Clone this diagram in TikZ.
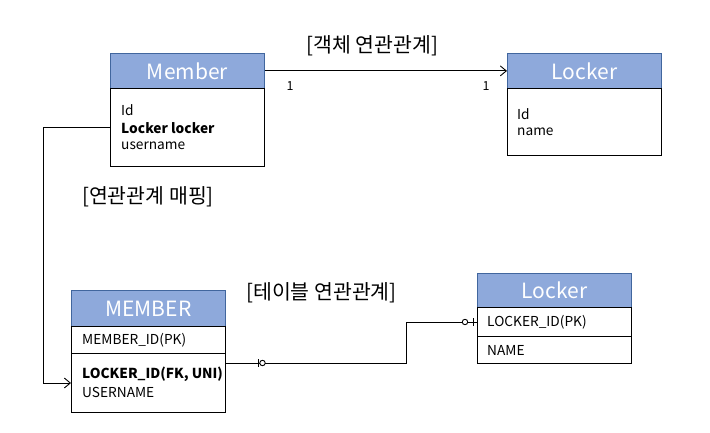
\documentclass[tikz,border=0pt]{standalone}
\usepackage{fontspec}
\setmainfont{Noto Sans CJK KR}
\usetikzlibrary{arrows.meta}
\definecolor{hdrblue}{HTML}{8EA9DB}
\definecolor{hdrline}{HTML}{41669E}
\begin{document}
\begin{tikzpicture}[x=1pt,y=-1pt,
 hdr/.style={draw=hdrline, line width=0.8pt, fill=hdrblue, text=white, font=\fontsize{21}{25}\selectfont, anchor=north west, inner sep=0pt, minimum width=154pt},
 cell/.style={draw=black, line width=1pt, fill=white, anchor=north west, inner sep=0pt, minimum width=154pt},
 txt/.style={anchor=west, inner sep=0pt, font=\fontsize{13.7}{16}\selectfont},
 lbl/.style={inner sep=0pt, font=\fontsize{20.5}{24}\selectfont},
 one/.style={inner sep=0pt, font=\fontsize{12.5}{14}\selectfont},
 conn/.style={draw=black, line width=0.9pt},
 arr/.style={conn, -{Straight Barb[length=6pt,width=10pt]}},
]
\useasboundingbox (0,0) rectangle (710,433);

% Member (object)
\node[hdr, minimum height=35pt] (mh) at (110,53) {Member};
\node[cell, minimum height=78pt] (mb) at (110,88) {};
\node[txt] (t1) at (121,110) {Id};
\node[txt, font=\fontsize{13.7}{16}\selectfont\bfseries] (t2) at (121,128) {Locker locker};
\node[txt] (t3) at (121,146) {username};

% Locker (object)
\node[hdr, minimum height=35pt] (lh) at (507,53) {Locker};
\node[cell, minimum height=67pt] (lb) at (507,88) {};
\node[txt] (t4) at (517,114) {Id};
\node[txt] (t5) at (517,132) {name};

% MEMBER table
\node[hdr, minimum height=36pt] (Mh) at (71,290) {MEMBER};
\node[cell, minimum height=27pt] (M1) at (71,326) {};
\node[cell, minimum height=59pt] (M2) at (71,353) {};
\node[txt] (t6) at (82,340) {MEMBER\_ID(PK)};
\node[txt, font=\fontsize{13.7}{16}\selectfont\bfseries] (t7) at (82,374) {LOCKER\_ID(FK, UNI)};
\node[txt] (t8) at (82,392) {USERNAME};

% Locker table
\node[hdr, minimum height=34pt] (Lh) at (477,273) {Locker};
\node[cell, minimum height=29pt] (L1) at (477,307) {};
\node[cell, minimum height=27pt] (L2) at (477,336) {};
\node[txt] (t9) at (487,322) {LOCKER\_ID(PK)};
\node[txt] (t10) at (487,350) {NAME};

% labels
\node[lbl] (g1) at (372.5,46) {[객체 연관관계]};
\node[lbl] (g2) at (148,197) {[연관관계 매핑]};
\node[lbl] (g3) at (321.5,293) {[테이블 연관관계]};
\node[one] (n1) at (290,86) {1};
\node[one] (n2) at (486,86) {1};

% connectors
\draw[arr] (mh.east) -- (lh.west);
\draw[arr] (mb.west) -- ++(-67,0) |- (M2.west);
\coordinate (s) at ([yshift=-10pt]M2.north east);
\draw[conn] (s) -- ++(180,0) |- (L1.west);
\draw[conn] ([xshift=32pt]s) ++(0,-4) -- ++(0,8);
\draw[conn, fill=white] ([xshift=36.5pt]s) circle (2.7);
\draw[conn] ([xshift=-4pt]L1.west) ++(0,-4) -- ++(0,8);
\draw[conn, fill=white] ([xshift=-12pt]L1.west) circle (2.7);
\end{tikzpicture}
\end{document}
